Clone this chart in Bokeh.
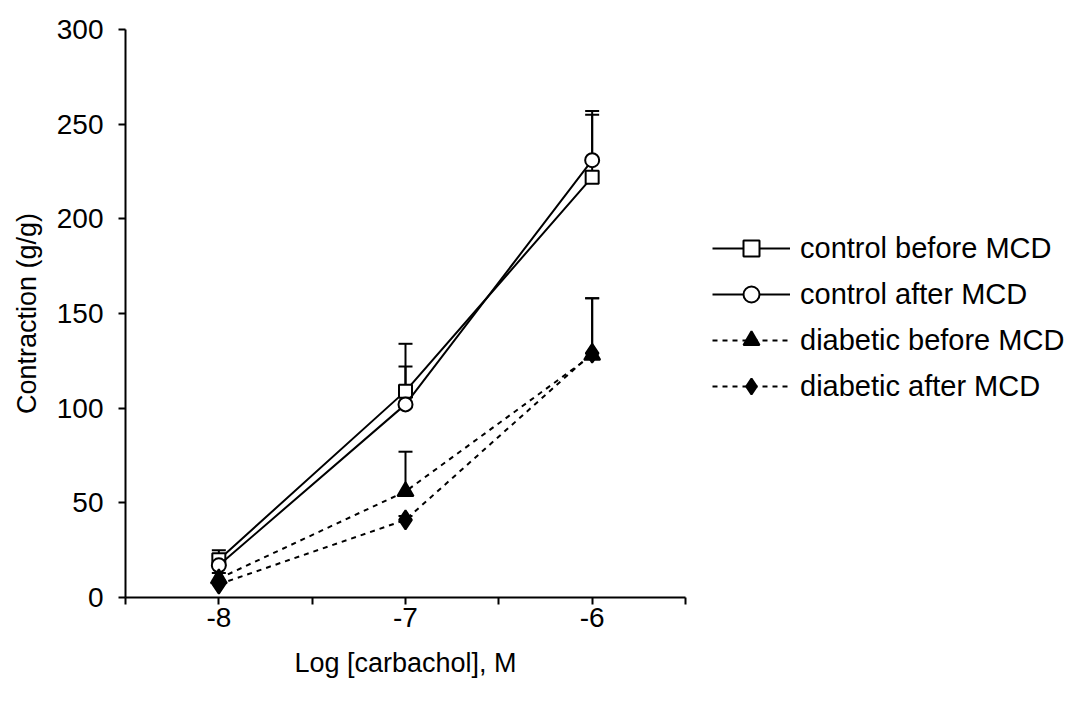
from bokeh.plotting import figure
from bokeh.models import (ColumnDataSource, Whisker, TeeHead, Legend, LegendItem,
                          FixedTicker)
from bokeh.embed import file_html
from bokeh.resources import INLINE

# ---- data ----
log_carbachol = [-8, -7, -6]
control_before = [20, 109, 222]
control_before_sem = [5, 25, 33]
control_after = [17, 102, 231]
control_after_sem = [5, 20, 26]
diabetic_before = [10, 56, 128]
diabetic_before_sem = [3, 21, 30]
diabetic_after = [7, 41, 129]
diabetic_after_sem = [2, 2, 29]
series_names = ["control before MCD", "control after MCD",
                "diabetic before MCD", "diabetic after MCD"]
x_ticks = [-8.5, -8, -7.5, -7, -6.5, -6, -5.5]
y_ticks = [0, 50, 100, 150, 200, 250, 300]

FONT = "Liberation Sans"
TICK_FS = "28px"
LABEL_FS = "27px"
LEGEND_FS = "29px"

p = figure(frame_width=560, frame_height=568, x_range=(-8.5, -5.5), y_range=(0, 300),
           output_backend="svg", toolbar_location=None,
           min_border_left=125, min_border_right=0, min_border_top=29,
           min_border_bottom=93)
p.outline_line_color = None
p.grid.visible = False
p.background_fill_color = "white"

# axes
p.xaxis.ticker = FixedTicker(ticks=x_ticks)
p.xaxis.major_label_overrides = {t: ("" if t != int(t) else str(int(t))) for t in x_ticks}
p.yaxis.ticker = FixedTicker(ticks=y_ticks)
for ax in (p.xaxis, p.yaxis):
    ax.axis_line_width = 2
    ax.axis_line_color = "black"
    ax.major_tick_line_width = 2
    ax.major_tick_line_color = "black"
    ax.major_tick_out = 7
    ax.major_tick_in = 0
    ax.minor_tick_line_color = None
    ax.major_label_text_font = FONT
    ax.major_label_text_font_size = TICK_FS
    ax.major_label_text_color = "black"
    ax.axis_label_text_font = FONT
    ax.axis_label_text_font_size = LABEL_FS
    ax.axis_label_text_font_style = "normal"
    ax.axis_label_text_color = "black"
p.xaxis.major_label_standoff = 3
p.yaxis.major_label_standoff = 15
p.xaxis.axis_label = "Log [carbachol], M"
p.yaxis.axis_label = "Contraction (g/g)"
p.xaxis.axis_label_standoff = 18
p.yaxis.axis_label_standoff = 12

# (values, sem, marker, fill, dash, size)
specs = [
    (control_before, control_before_sem, "square", "white", "solid", 13),
    (control_after, control_after_sem, "circle", "white", "solid", 14),
    (diabetic_before, diabetic_before_sem, "triangle", "black", "5 5", 16),
    (diabetic_after, diabetic_after_sem, "diamond", "black", "5 5", 19),
]

items = []
for name, (vals, sem, marker, fill, dash, size) in zip(series_names, specs):
    src = ColumnDataSource(dict(x=log_carbachol, y=vals,
                                upper=[v + s for v, s in zip(vals, sem)]))
    w = Whisker(source=src, base="x", lower="y", upper="upper",
                line_width=2, line_color="black",
                upper_head=TeeHead(size=14, line_width=2, line_color="black"),
                lower_head=None)
    p.add_layout(w)
    ln = p.line("x", "y", source=src, line_color="black", line_width=2,
                line_dash=dash)
    sc = p.scatter("x", "y", source=src, marker=marker, size=size,
                   fill_color=fill, line_color="black", line_width=2)
    items.append(LegendItem(label=name, renderers=[ln, sc]))

legend = Legend(items=items, location=(27, 191), orientation="vertical",
                glyph_width=78, glyph_height=40, spacing=6, label_standoff=10,
                padding=0, margin=0, border_line_color=None,
                background_fill_alpha=0, label_text_font=FONT,
                label_text_font_size=LEGEND_FS, label_text_color="black",
                label_height=40)
p.add_layout(legend, "right")

open("out.html", "w").write(file_html(p, INLINE))
